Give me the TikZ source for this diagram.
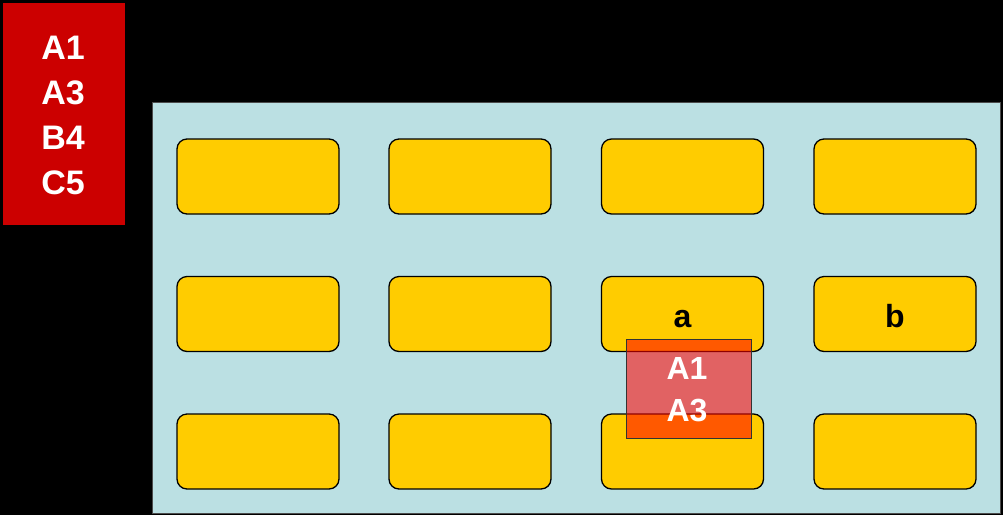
\documentclass[tikz,border=0pt]{standalone}
\usepackage{fontspec}
\setmainfont{Liberation Sans}
\definecolor{legendred}{HTML}{CC0000}
\definecolor{panelblue}{HTML}{BBE0E3}
\definecolor{slotyellow}{HTML}{FFCC00}
\tikzset{
  slot/.style={draw=black, line width=1.3pt, fill=slotyellow, rounded corners=10pt,
    minimum width=162pt, minimum height=75pt, inner sep=0pt, text height=26pt, text depth=0pt,
    font=\fontsize{32}{36}\selectfont\bfseries},
  overlaybox/.style={draw=black!80, line width=1pt, fill=red, fill opacity=0.56, text opacity=1,
    minimum width=125pt, minimum height=99pt, inner sep=0pt},
}
\begin{document}
\begin{tikzpicture}[x=1pt,y=-1pt]
\fill[black] (0,0) rectangle (1003,515);
\useasboundingbox (0,0) rectangle (1003,515);
% legend
\node[fill=legendred, minimum width=122pt, minimum height=222pt, inner sep=0pt] (legend) at (64,114) {};
\node[text=white, font=\fontsize{34}{45}\selectfont\bfseries, align=center] (legendtext) at (63,115) {A1\\A3\\B4\\C5};
% panel
\node[fill=panelblue, draw=black!70, line width=0.8pt, minimum width=848pt, minimum height=411pt, inner sep=0pt] (panel) at (576,307.5) {};
% slots
\node[slot] (s11) at (258,176.5) {};
\node[slot] (s12) at (470,176.5) {};
\node[slot] (s13) at (682.5,176.5) {};
\node[slot] (s14) at (895,176.5) {};
\node[slot] (s21) at (258,314) {};
\node[slot] (s22) at (470,314) {};
\node[slot] (s23) at (682.5,314) {a};
\node[slot] (s24) at (895,314) {b};
\node[slot] (s31) at (258,451.5) {};
\node[slot] (s32) at (470,451.5) {};
\node[slot] (s33) at (682.5,451.5) {};
\node[slot] (s34) at (895,451.5) {};
% overlay
\node[overlaybox] (ov) at (688.5,388.5) {};
\node[text=white, font=\fontsize{32}{42}\selectfont\bfseries, align=center] (ovtext) at (687,390) {A1\\A3};
\end{tikzpicture}
\end{document}
